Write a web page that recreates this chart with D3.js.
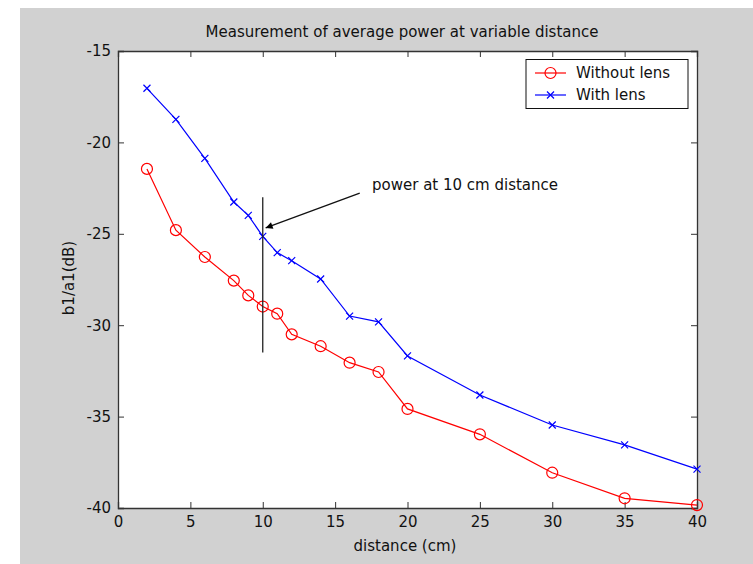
<!DOCTYPE html>
<html>
<head>
<meta charset="utf-8">
<script src="https://cdn.jsdelivr.net/npm/d3@7/dist/d3.min.js"></script>
<style>
  html, body { margin: 0; padding: 0; background: #fff; }
  svg { display: block; }
  text { font-family: "DejaVu Sans", sans-serif; fill: #111; }
</style>
</head>
<body>
<div id="chart"></div>
<script>
// distances (cm) where the measurements were taken
const distance = [2, 4, 6, 8, 9, 10, 11, 12, 14, 16, 18, 20, 25, 30, 35, 40]
// b1/a1 in dB
const withoutLens = [-21.45, -24.8, -26.27, -27.56, -28.37, -28.98, -29.37, -30.5, -31.15, -32.05, -32.56, -34.58, -35.97, -38.07, -39.47, -39.84]
const withLens = [-17.04, -18.74, -20.87, -23.26, -23.99, -25.14, -26.03, -26.47, -27.47, -29.5, -29.82, -31.68, -33.82, -35.46, -36.55, -37.87]

const xTicks = [0, 5, 10, 15, 20, 25, 30, 35, 40]
const yTicks = [-15, -20, -25, -30, -35, -40]

// annotation: vertical marker line at 10 cm + arrow
const markerX = 10
const markerSpan = [-23, -31.5]
const arrowFrom = [16.7, -22.77]
const arrowTo = [10.2, -24.68]
const noteText = "power at 10 cm distance"
const notePos = [17.55, -22.6]

const W = 753, H = 564
const plot = { left: 118, top: 51, right: 697, bottom: 508 }
const fontSize = 15

const svg = d3.select("#chart").append("svg")
  .attr("width", W).attr("height", H)

// figure background
svg.append("rect")
  .attr("x", 20).attr("y", 8)
  .attr("width", W - 20).attr("height", H - 8)
  .attr("fill", "#d1d1d1")

svg.append("rect")
  .attr("x", plot.left).attr("y", plot.top)
  .attr("width", plot.right - plot.left).attr("height", plot.bottom - plot.top)
  .attr("fill", "#fff")

const x = d3.scaleLinear().domain([0, 40]).range([plot.left, plot.right])
const y = d3.scaleLinear().domain([-40, -15]).range([plot.bottom, plot.top])

const axisColor = "#333"
const tickLen = 6
const plain = d => String(d)

// axes with inward ticks on all four sides
const bottomAxis = svg.append("g")
  .attr("transform", `translate(0,${plot.bottom})`)
  .call(d3.axisBottom(x).tickValues(xTicks).tickSize(-tickLen).tickPadding(tickLen + 2).tickFormat(plain))
const topAxis = svg.append("g")
  .attr("transform", `translate(0,${plot.top})`)
  .call(d3.axisTop(x).tickValues(xTicks).tickSize(-tickLen).tickFormat(""))
const leftAxis = svg.append("g")
  .attr("transform", `translate(${plot.left},0)`)
  .call(d3.axisLeft(y).tickValues(yTicks).tickSize(-tickLen).tickPadding(tickLen + 1).tickFormat(plain))
const rightAxis = svg.append("g")
  .attr("transform", `translate(${plot.right},0)`)
  .call(d3.axisRight(y).tickValues(yTicks).tickSize(-tickLen).tickFormat(""))

;[bottomAxis, topAxis, leftAxis, rightAxis].forEach(a => {
  a.select(".domain").attr("stroke", axisColor).attr("stroke-width", 1.3)
  a.selectAll(".tick line").attr("stroke", axisColor)
  a.selectAll(".tick text")
    .attr("font-family", "DejaVu Sans, sans-serif")
    .attr("font-size", fontSize).attr("fill", "#111")
})
bottomAxis.selectAll(".tick text").attr("dy", "0.7em")

// titles
svg.append("text")
  .attr("x", 402).attr("y", 37)
  .attr("text-anchor", "middle").attr("font-size", fontSize)
  .text("Measurement of average power at variable distance")

svg.append("text")
  .attr("x", 405).attr("y", 551)
  .attr("text-anchor", "middle").attr("font-size", fontSize)
  .text("distance (cm)")

svg.append("text")
  .attr("transform", `translate(74,278) rotate(-90)`)
  .attr("text-anchor", "middle").attr("font-size", fontSize)
  .text("b1/a1(dB)")

const line = d3.line().x(d => x(d[0])).y(d => y(d[1]))

const series = [
  { name: "Without lens", color: "#ff0000", values: withoutLens, marker: "circle" },
  { name: "With lens", color: "#0000ff", values: withLens, marker: "cross" }
]

function drawMarker(g, type, color, cx, cy) {
  if (type === "circle") {
    g.append("circle").attr("cx", cx).attr("cy", cy).attr("r", 5.5)
      .attr("fill", "none").attr("stroke", color).attr("stroke-width", 1.2)
  } else {
    const s = 3.5
    g.append("path")
      .attr("d", `M${cx - s},${cy - s}L${cx + s},${cy + s}M${cx - s},${cy + s}L${cx + s},${cy - s}`)
      .attr("stroke", color).attr("stroke-width", 1.2)
  }
}

series.forEach(s => {
  const pts = distance.map((d, i) => [d, s.values[i]])
  svg.append("path")
    .datum(pts)
    .attr("d", line)
    .attr("fill", "none")
    .attr("stroke", s.color)
    .attr("stroke-width", 1.2)
  const mg = svg.append("g")
  pts.forEach(p => drawMarker(mg, s.marker, s.color, x(p[0]), y(p[1])))
})

// annotation
svg.append("line")
  .attr("x1", x(markerX)).attr("x2", x(markerX))
  .attr("y1", y(markerSpan[0])).attr("y2", y(markerSpan[1]))
  .attr("stroke", "#222").attr("stroke-width", 1.3)

svg.append("defs").append("marker")
  .attr("id", "arrow")
  .attr("viewBox", "0 -5 10 10")
  .attr("refX", 10).attr("refY", 0)
  .attr("markerWidth", 10).attr("markerHeight", 7)
  .attr("markerUnits", "userSpaceOnUse")
  .attr("orient", "auto")
  .append("path").attr("d", "M0,-5L10,0L0,5Z").attr("fill", "#000")

svg.append("line")
  .attr("x1", x(arrowFrom[0])).attr("y1", y(arrowFrom[1]))
  .attr("x2", x(arrowTo[0])).attr("y2", y(arrowTo[1]))
  .attr("stroke", "#111").attr("stroke-width", 1.3)
  .attr("marker-end", "url(#arrow)")

svg.append("text")
  .attr("x", x(notePos[0])).attr("y", y(notePos[1]))
  .attr("font-size", fontSize)
  .text(noteText)

// legend
const legend = svg.append("g")
legend.append("rect")
  .attr("x", 526).attr("y", 59.5).attr("width", 162).attr("height", 49)
  .attr("fill", "#fff").attr("stroke", "#111").attr("stroke-width", 1)
series.forEach((s, i) => {
  const ly = 73 + i * 22
  legend.append("line")
    .attr("x1", 535).attr("x2", 566).attr("y1", ly).attr("y2", ly)
    .attr("stroke", s.color).attr("stroke-width", 1.2)
  drawMarker(legend, s.marker, s.color, 550.5, ly)
  legend.append("text")
    .attr("x", 576).attr("y", ly + 5)
    .attr("font-size", fontSize)
    .text(s.name)
})
</script>
</body>
</html>
